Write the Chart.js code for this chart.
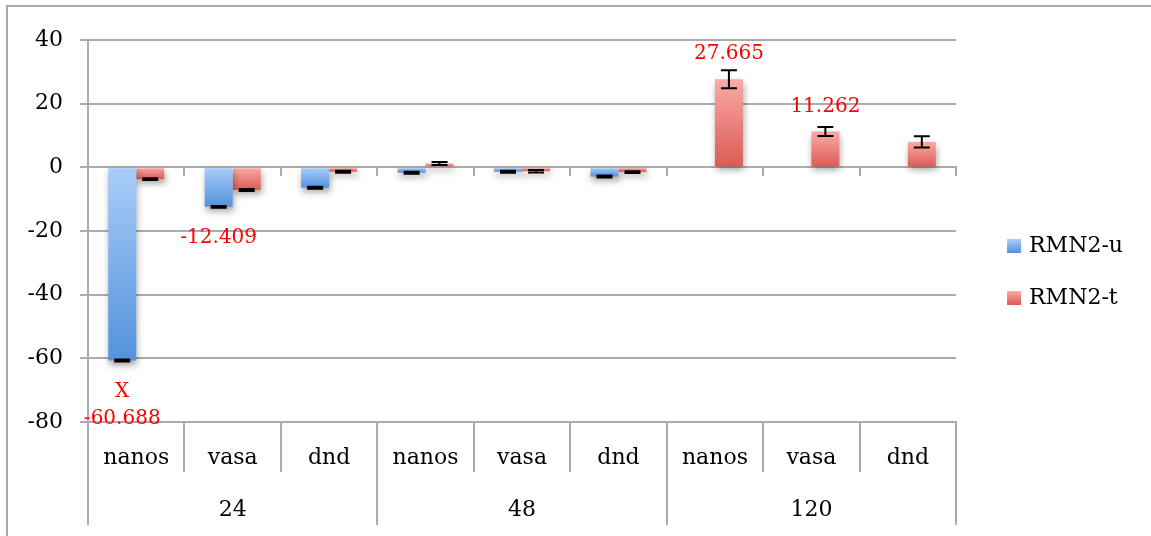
<!DOCTYPE html>
<html>
<head>
<meta charset="utf-8">
<script src="https://cdn.jsdelivr.net/npm/chart.js@4.4.1/dist/chart.umd.min.js"></script>
<style>
  html, body { margin: 0; padding: 0; background: #fff; overflow: hidden; }
  #frame { position: absolute; left: 6px; top: 5px; width: 1160px; height: 560px; border: 2px solid #a8a8a8; }
  #chart { position: absolute; left: 0; top: 0; }
</style>
</head>
<body>
<div id="frame"></div>
<canvas id="chart" width="1151" height="536"></canvas>
<script>
// categories (inner level) and groups (outer level)
const categories = ['nanos', 'vasa', 'dnd', 'nanos', 'vasa', 'dnd', 'nanos', 'vasa', 'dnd'];
const groups = ['24', '48', '120'];

// y axis range
const yMin = -80, yMax = 40, yStep = 20;

// series values
const rmnU = [-60.688, -12.409, -6.4, -1.7, -1.4, -2.9, null, null, null];
const rmnT = [-3.7, -7.1, -1.4, 1.2, -1.2, -1.5, 27.665, 11.262, 8.0];

// error bar half-widths
const errU = [0.3, 0.3, 0.3, 0.3, 0.3, 0.3, null, null, null];
const errT = [0.3, 0.3, 0.3, 0.5, 0.4, 0.3, 2.8, 1.4, 1.8];

// red value labels
const labelU = [['X', '-60.688'], ['-12.409'], null, null, null, null, null, null, null];
const labelT = [null, null, null, null, null, null, ['27.665'], ['11.262'], null];

const GRID = '#ababab';
const BLUE = ['#a9cdf9', '#5392db'];
const RED = ['#faaaa6', '#dc5a54'];
const LEGEND_BOX = 14;
Chart.defaults.font.family = "'DejaVu Serif', serif";
Chart.defaults.color = '#000';

function barGradient(stops) {
  return (c) => {
    const chart = c.chart;
    if (!chart.chartArea || c.type !== 'data' || c.raw == null) return stops[1];
    const y = chart.scales.y;
    const p0 = y.getPixelForValue(0), p1 = y.getPixelForValue(c.raw);
    const g = chart.ctx.createLinearGradient(0, Math.min(p0, p1), 0, Math.max(p0, p1) + 0.01);
    g.addColorStop(0, stops[0]);
    g.addColorStop(1, stops[1]);
    return g;
  };
}

const barShadow = {
  id: 'barShadow',
  beforeDatasetsDraw(chart) {
    const ctx = chart.ctx;
    ctx.save();
    ctx.shadowColor = 'rgba(0,0,0,0.38)';
    ctx.shadowBlur = 7;
    ctx.shadowOffsetX = 1;
    ctx.shadowOffsetY = 4;
  },
  afterDatasetsDraw(chart) { chart.ctx.restore(); }
};

const errorBars = {
  id: 'errorBars',
  afterDatasetsDraw(chart) {
    const ctx = chart.ctx, y = chart.scales.y;
    ctx.save();
    ctx.strokeStyle = '#000';
    ctx.lineWidth = 2;
    chart.data.datasets.forEach((ds, i) => {
      chart.getDatasetMeta(i).data.forEach((bar, j) => {
        const v = ds.data[j], e = ds.errors[j];
        if (v == null || e == null) return;
        const t = y.getPixelForValue(v + e), b = y.getPixelForValue(v - e);
        ctx.beginPath();
        ctx.moveTo(bar.x, t); ctx.lineTo(bar.x, b);
        ctx.moveTo(bar.x - 8, t); ctx.lineTo(bar.x + 8, t);
        ctx.moveTo(bar.x - 8, b); ctx.lineTo(bar.x + 8, b);
        ctx.stroke();
      });
    });
    ctx.restore();
  }
};

const valueLabels = {
  id: 'valueLabels',
  afterDatasetsDraw(chart) {
    const ctx = chart.ctx;
    ctx.save();
    ctx.fillStyle = '#ff0000';
    ctx.font = "20px 'DejaVu Serif', serif";
    ctx.textAlign = 'center';
    ctx.textBaseline = 'middle';
    chart.data.datasets.forEach((ds, i) => {
      chart.getDatasetMeta(i).data.forEach((bar, j) => {
        const lines = ds.valueLabels[j];
        if (!lines) return;
        if (ds.data[j] < 0) {
          lines.forEach((s, k) => ctx.fillText(s, bar.x, bar.y + 31 + k * 27));
        } else {
          lines.forEach((s, k) => ctx.fillText(s, bar.x, bar.y - 25 - (lines.length - 1 - k) * 27));
        }
      });
    });
    ctx.restore();
  }
};

// repaint the legend boxes (square, with the bars' vertical gradient)
const legendGradient = {
  id: 'legendGradient',
  afterDraw(chart) {
    const lg = chart.legend, ctx = chart.ctx;
    if (!lg || !lg.legendHitBoxes) return;
    const o = lg.options.labels, fs = o.font.size;
    lg.legendHitBoxes.forEach((hb, i) => {
      const stops = chart.data.datasets[i].gradientStops;
      const top = hb.top + Math.max((fs - o.boxHeight) / 2, 0);
      const g = ctx.createLinearGradient(0, top, 0, top + o.boxHeight);
      g.addColorStop(0, stops[0]);
      g.addColorStop(1, stops[1]);
      ctx.save();
      ctx.fillStyle = '#fff';
      ctx.fillRect(hb.left - 1, top - 1, o.boxWidth + 2, o.boxHeight + 2);
      ctx.fillStyle = g;
      ctx.fillRect(hb.left, top, LEGEND_BOX, o.boxHeight);
      ctx.restore();
    });
  }
};

new Chart(document.getElementById('chart'), {
  type: 'bar',
  data: {
    labels: categories,
    datasets: [
      { label: 'RMN2-u', data: rmnU, errors: errU, valueLabels: labelU, gradientStops: BLUE,
        backgroundColor: barGradient(BLUE) },
      { label: 'RMN2-t', data: rmnT, errors: errT, valueLabels: labelT, gradientStops: RED,
        backgroundColor: barGradient(RED) },
    ]
  },
  options: {
    responsive: false, animation: false, devicePixelRatio: 1,
    categoryPercentage: 0.58, barPercentage: 1.0,
    layout: { padding: { top: 8, bottom: 0, left: 0, right: 18 } },
    plugins: {
      title: { display: true, text: '', font: { size: 10 }, padding: { top: 10, bottom: 10 } },
      legend: {
        position: 'right',
        labels: { boxWidth: 11, boxHeight: LEGEND_BOX, padding: 30, color: '#000',
          font: { size: 22 } },
      },
      tooltip: { enabled: false },
    },
    scales: {
      y: {
        min: yMin, max: yMax,
        ticks: { stepSize: yStep, padding: 17, font: { size: 22 }, color: '#000' },
        grid: { color: GRID, lineWidth: 2, tickLength: 8 },
        border: { color: GRID, width: 2 },
        afterFit: s => { s.width = 88; },
      },
      yR: {
        position: 'right', display: true,
        ticks: { display: false }, grid: { display: false }, border: { display: false },
        afterFit: s => { s.width = 21; },
      },
      x: {
        weight: 0, offset: true,
        ticks: { padding: -27, font: { size: 22 }, color: '#000', maxRotation: 0 },
        grid: { offset: true, drawOnChartArea: false, color: GRID, lineWidth: 2, tickLength: 50 },
        border: { color: GRID, width: 2 },
        afterFit: s => { s.height = 50; },
      },
      x2: {
        type: 'category', labels: groups, position: 'bottom', weight: 1, offset: true,
        ticks: { padding: -28, font: { size: 22 }, color: '#000', maxRotation: 0 },
        grid: { offset: true, drawOnChartArea: false, color: GRID, lineWidth: 2, tickLength: 53 },
        border: { display: false },
        afterFit: s => { s.height = 64; },
      },
      x0: {
        type: 'category', labels: categories, position: { y: 0 }, offset: true,
        ticks: { display: false },
        grid: { offset: true, drawOnChartArea: false, color: GRID, lineWidth: 2, tickLength: 8 },
        border: { color: GRID, width: 2 },
        afterFit: s => { s.height = 0; },
      },
    },
  },
  plugins: [barShadow, errorBars, valueLabels, legendGradient],
});
</script>
</body>
</html>
